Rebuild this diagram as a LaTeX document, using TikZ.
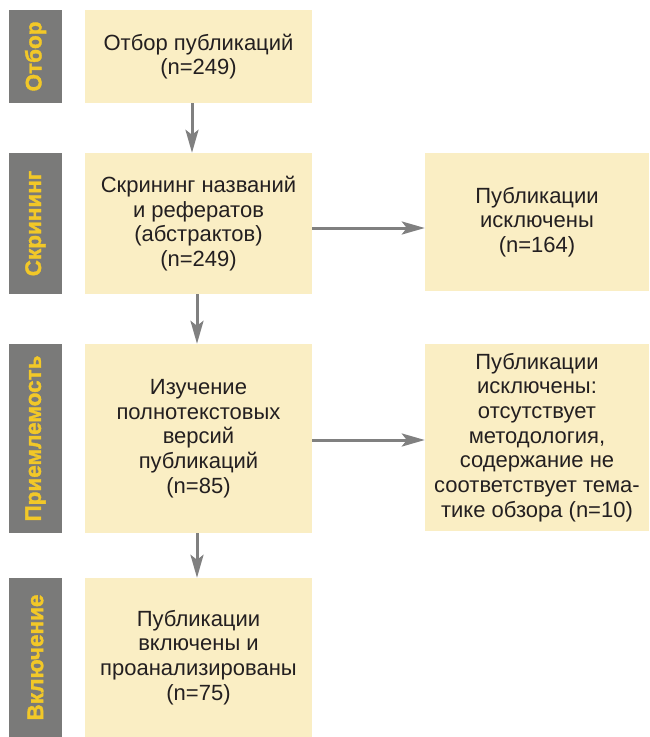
\documentclass[tikz,border=0pt]{standalone}
\usepackage{fontspec}
\setmainfont{Liberation Sans}
\newfontfamily\barfont[BoldFeatures={FakeBold=1.6}]{Liberation Sans}
\usetikzlibrary{arrows.meta}
\definecolor{boxfill}{RGB}{250,238,196}
\definecolor{barfill}{RGB}{122,122,121}
\definecolor{bartext}{RGB}{242,200,40}
\definecolor{arrowgray}{RGB}{128,128,128}
\definecolor{textdark}{RGB}{35,31,32}
\tikzset{
  stage/.style={fill=boxfill, text=textdark, align=center, inner sep=0pt,
    font=\fontsize{22}{24.7}\selectfont},
  phase/.style={fill=barfill, text=bartext, rotate=90, inner sep=0pt,
    minimum height=53pt, font=\fontsize{22.5}{26}\barfont\bfseries},
  flow/.style={draw=arrowgray, line width=3pt,
    -{Stealth[length=23pt,width=13pt,inset=5pt]}}
}
\begin{document}
\begin{tikzpicture}[x=1pt,y=-1pt]
\useasboundingbox (0,0) rectangle (649,737);
% phase bars on the left
\node[phase, minimum width=93pt] (otbor) at (35.5,56.5) {Отбор};
\node[phase, minimum width=141pt] (skrining) at (35.5,223.5) {Скрининг};
\node[phase, minimum width=189pt] (priem) at (35.5,438.5) {Приемлемость};
\node[phase, minimum width=159pt] (vkl) at (35.5,657.5) {Включение};
% main column
\node[stage, minimum width=227pt, minimum height=93pt] (b1) at (198.5,56.5)
  {Отбор публикаций\\(n=249)};
\node[stage, minimum width=227pt, minimum height=141pt] (b2) at (198.5,223.5)
  {Скрининг названий\\и рефератов\\(абстрактов)\\(n=249)};
\node[stage, minimum width=227pt, minimum height=189pt] (b3) at (198.5,438.5)
  {Изучение\\полнотекстовых\\версий\\публикаций\\(n=85)};
\node[stage, minimum width=227pt, minimum height=159pt] (b4) at (198.5,657.5)
  {Публикации\\включены и\\проанализированы\\(n=75)};
% excluded
\node[stage, minimum width=224pt, minimum height=138pt] (r1) at (537,222)
  {Публикации\\исключены\\(n=164)};
\node[stage, minimum width=224pt, minimum height=187pt] (r2) at (537,437.5)
  {Публикации\\исключены:\\отсутствует\\методология,\\содержание не\\соответствует тема-\\тике обзора (n=10)};
% arrows
\draw[flow] ([xshift=-6.5pt]b1.south) -- ([xshift=-6.5pt]b2.north);
\draw[flow] ([xshift=-1.5pt]b2.south) -- ([xshift=-1.5pt]b3.north);
\draw[flow] ([xshift=-1.5pt]b3.south) -- ([xshift=-1.5pt]b4.north);
\draw[flow] ([yshift=-4.5pt]b2.east) -- ([yshift=-4.5pt]b2.east -| r1.west);
\draw[flow] ([yshift=-1.5pt]b3.east) -- ([yshift=-1.5pt]b3.east -| r2.west);
\end{tikzpicture}
\end{document}
